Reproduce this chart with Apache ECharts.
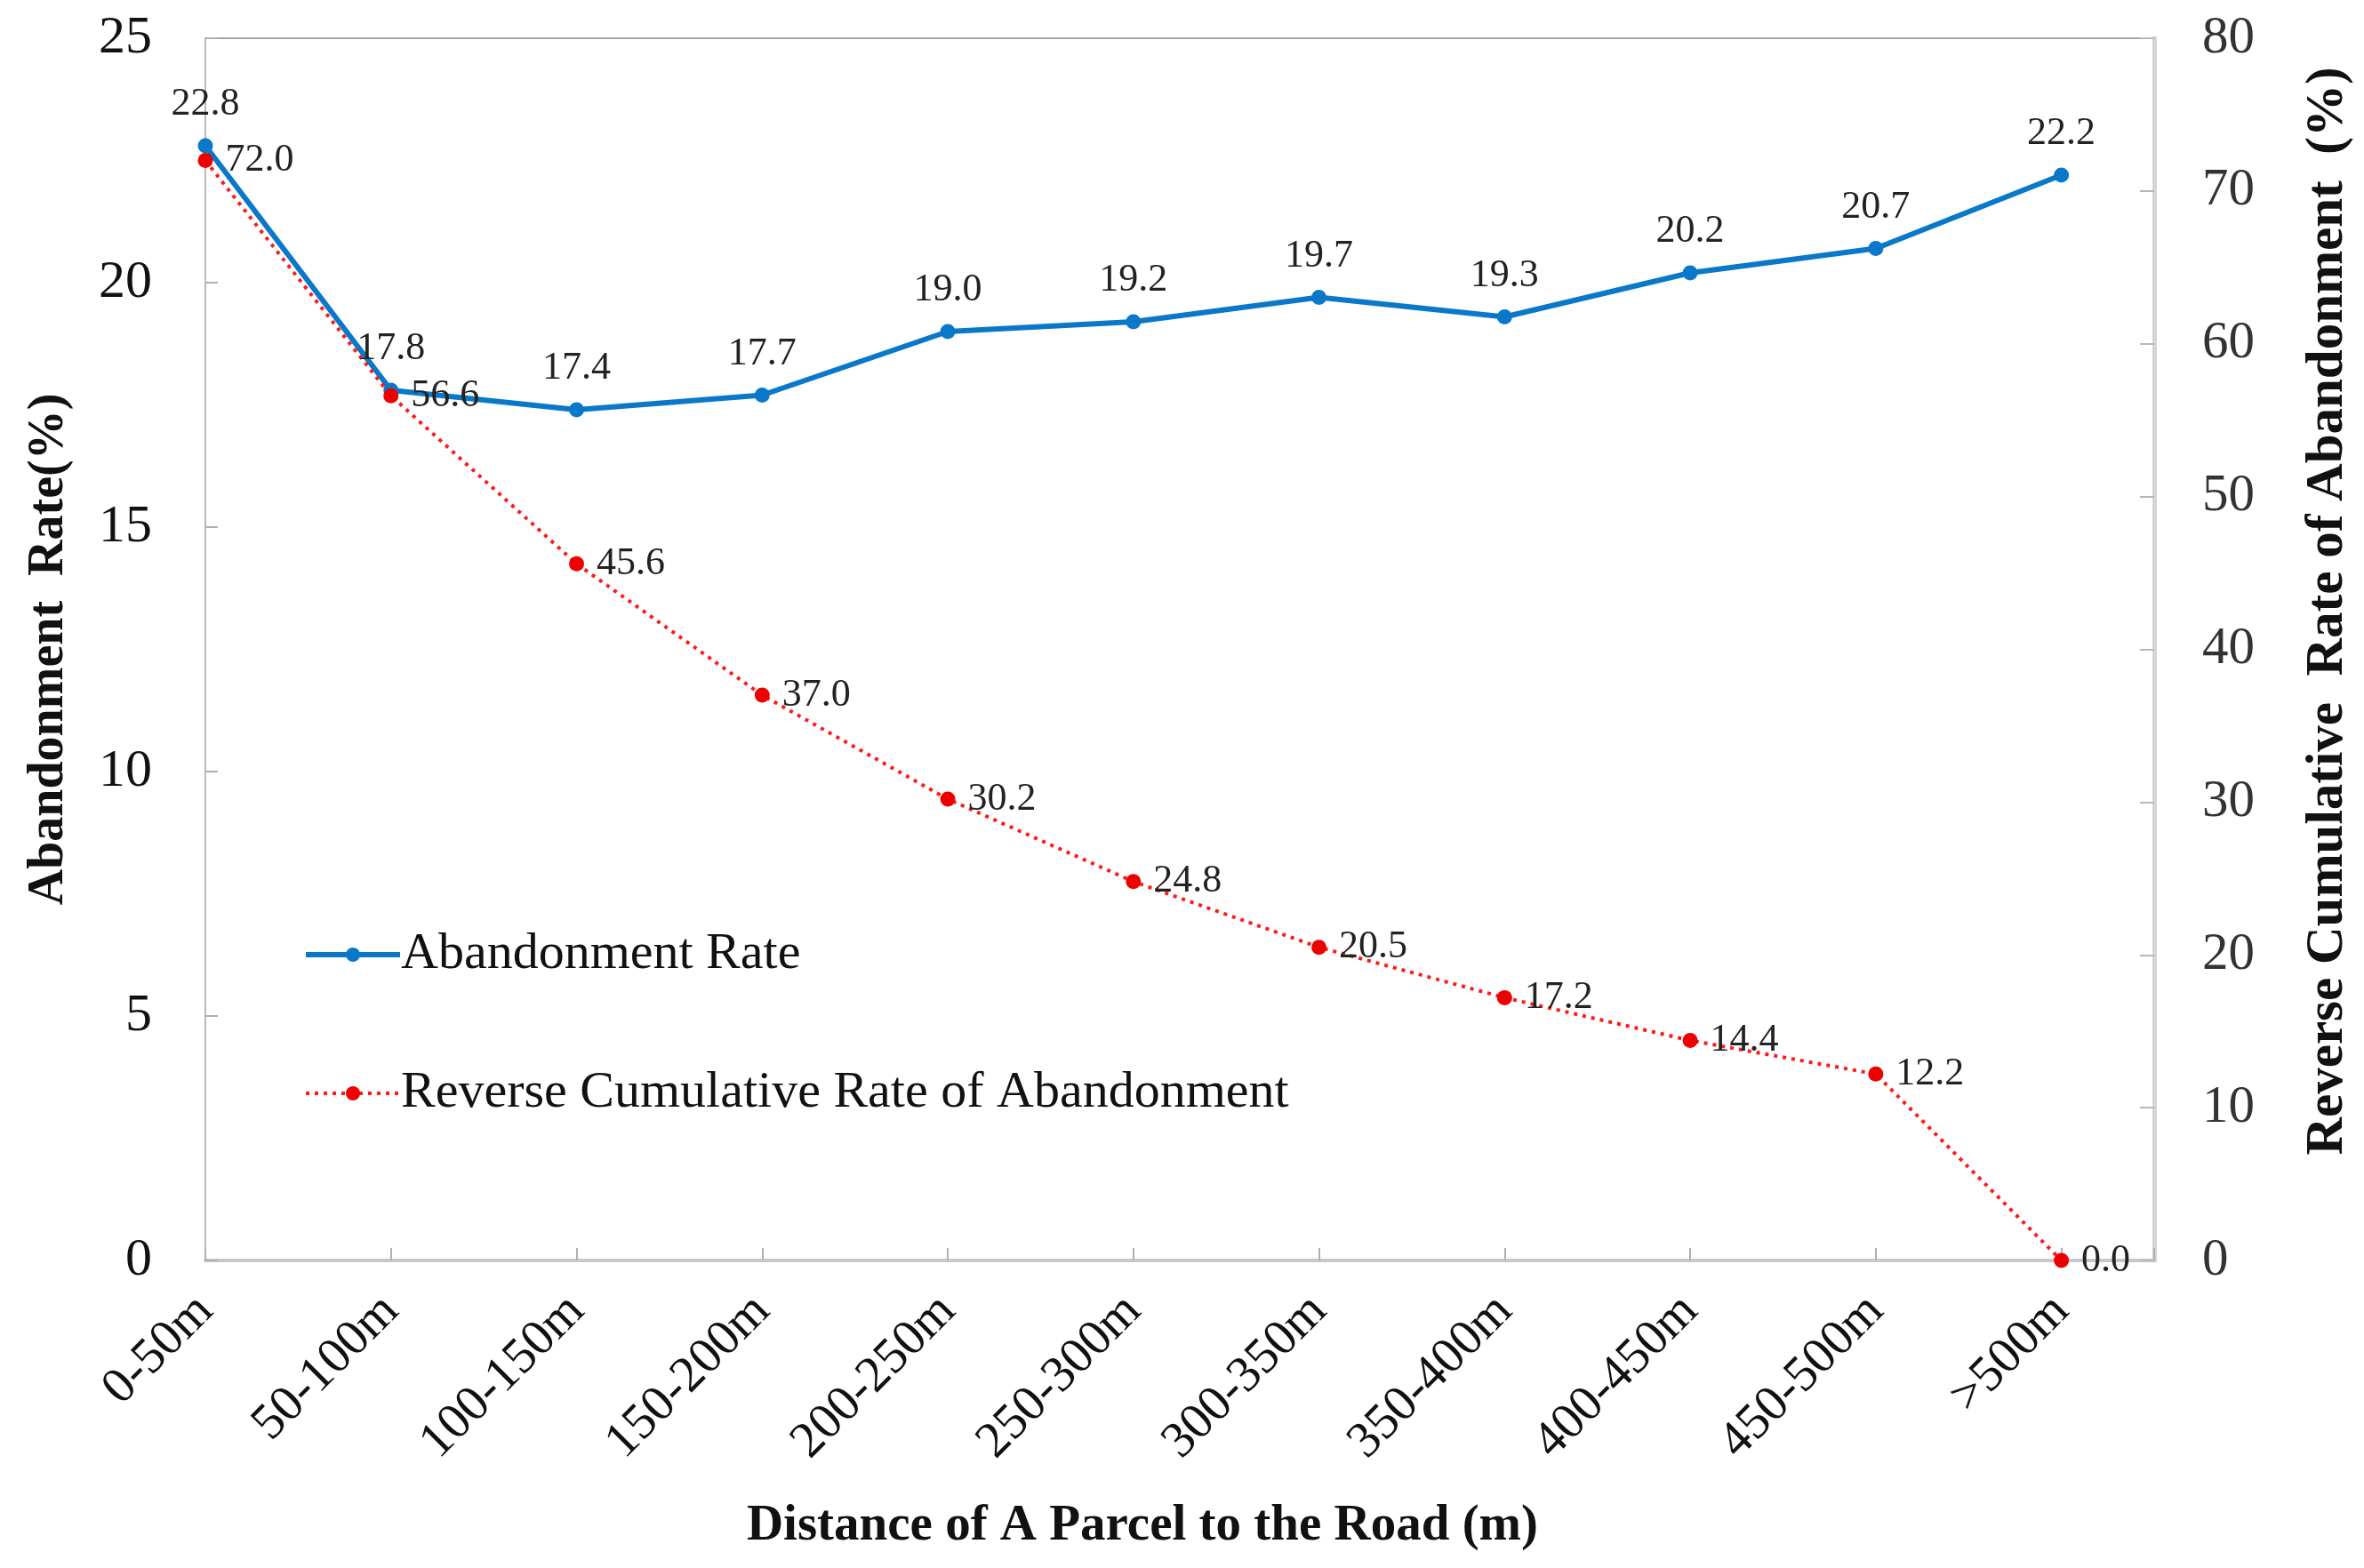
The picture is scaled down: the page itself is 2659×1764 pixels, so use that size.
<!DOCTYPE html>
<html>
<head>
<meta charset="utf-8">
<script src="https://cdn.jsdelivr.net/npm/echarts@6/dist/echarts.min.js"></script>
<style>
html,body{margin:0;padding:0;background:#fff;}
#chart{width:2659px;height:1764px;}
</style>
</head>
<body>
<div id="chart"></div>
<script>
const categories = ['0-50m','50-100m','100-150m','150-200m','200-250m','250-300m','300-350m','350-400m','400-450m','450-500m','>500m'];
const abandonmentRate = [22.8, 17.8, 17.4, 17.7, 19.0, 19.2, 19.7, 19.3, 20.2, 20.7, 22.2];
const reverseCumulative = [72.0, 56.6, 45.6, 37.0, 30.2, 24.8, 20.5, 17.2, 14.4, 12.2, 0.0];
const leftTicks = {min: 0, max: 25, interval: 5};
const rightTicks = {min: 0, max: 80, interval: 10};

const serif = 'Liberation Serif';
const chart = echarts.init(document.getElementById('chart'));
const toPairs = arr => arr.map((v, i) => [i, v]);

chart.setOption({
  animation: false,
  backgroundColor: '#fff',
  grid: {left: 231, right: 236, top: 43, bottom: 346, show: true, borderColor: '#a6a6a6', borderWidth: 2},
  legend: {
    orient: 'vertical',
    left: 336, top: 1040,
    itemWidth: 106, itemHeight: 20, itemGap: 98,
    textStyle: {fontFamily: serif, fontSize: 58, color: '#111', padding: [0, 0, 0, -4]},
    data: [
      {name: 'Abandonment Rate', lineStyle: {width: 6, color: '#0a78c8'}, itemStyle: {color: '#0a78c8'}},
      {name: 'Reverse Cumulative Rate of Abandonment', lineStyle: {width: 4, color: '#ff1a1a', type: [4, 6]}, itemStyle: {color: '#ee0000'}}
    ]
  },
  xAxis: {
    type: 'value', min: 0, max: 10.5, interval: 1,
    name: 'Distance of A Parcel to the Road (m)',
    nameLocation: 'middle', nameGap: 271,
    nameTextStyle: {fontFamily: serif, fontWeight: 'bold', fontSize: 57, color: '#111', padding: [0, 84, 0, 0]},
    axisLine: {lineStyle: {color: '#c8c8c8', width: 4}},
    axisTick: {inside: true, length: 14, lineStyle: {color: '#b0b0b0', width: 2}},
    splitLine: {show: false},
    axisLabel: {
      rotate: 45, margin: 48,
      fontFamily: serif, fontSize: 57, color: '#111',
      formatter: v => (Number.isInteger(v) && categories[v] !== undefined) ? categories[v] : ''
    }
  },
  yAxis: [
    {
      type: 'value', min: leftTicks.min, max: leftTicks.max, interval: leftTicks.interval,
      position: 'left',
      name: 'Abandonment  Rate(%)', nameLocation: 'middle', nameGap: 147, nameRotate: 90,
      nameTextStyle: {fontFamily: serif, fontWeight: 'bold', fontSize: 56, color: '#111'},
      axisLine: {show: true, lineStyle: {color: '#b8b8b8', width: 2}},
      axisTick: {show: true, inside: true, length: 14, lineStyle: {color: '#b0b0b0', width: 2}},
      splitLine: {show: false},
      axisLabel: {margin: 60, fontFamily: serif, fontSize: 60, color: '#111'}
    },
    {
      type: 'value', min: rightTicks.min, max: rightTicks.max, interval: rightTicks.interval,
      position: 'right',
      name: 'Reverse Cumulative  Rate of Abandonment  (%)', nameLocation: 'middle', nameGap: 166, nameRotate: 90,
      nameTextStyle: {fontFamily: serif, fontWeight: 'bold', fontSize: 59, color: '#111', padding: [0, 0, 0, 86]},
      axisLine: {show: true, lineStyle: {color: '#d4d4d4', width: 5}},
      axisTick: {show: true, inside: true, length: 16, lineStyle: {color: '#b8b8b8', width: 2}},
      splitLine: {show: false},
      axisLabel: {margin: 54, fontFamily: serif, fontSize: 59, color: '#333'}
    }
  ],
  series: [
    {
      name: 'Abandonment Rate', type: 'line', yAxisIndex: 0,
      data: toPairs(abandonmentRate),
      symbol: 'circle', symbolSize: 17,
      itemStyle: {color: '#0a78c8'},
      lineStyle: {color: '#0a78c8', width: 6},
      label: {show: true, position: 'top', distance: 16, fontFamily: serif, fontSize: 44, color: '#222',
              formatter: p => p.value[1].toFixed(1)}
    },
    {
      name: 'Reverse Cumulative Rate of Abandonment', type: 'line', yAxisIndex: 1,
      data: toPairs(reverseCumulative),
      symbol: 'circle', symbolSize: 17,
      itemStyle: {color: '#ee0000'},
      lineStyle: {color: '#ff1a1a', width: 4, type: [4, 6]},
      label: {show: true, position: 'right', distance: 14, fontFamily: serif, fontSize: 44, color: '#222',
              formatter: p => p.value[1].toFixed(1)}
    }
  ]
});
</script>
</body>
</html>
